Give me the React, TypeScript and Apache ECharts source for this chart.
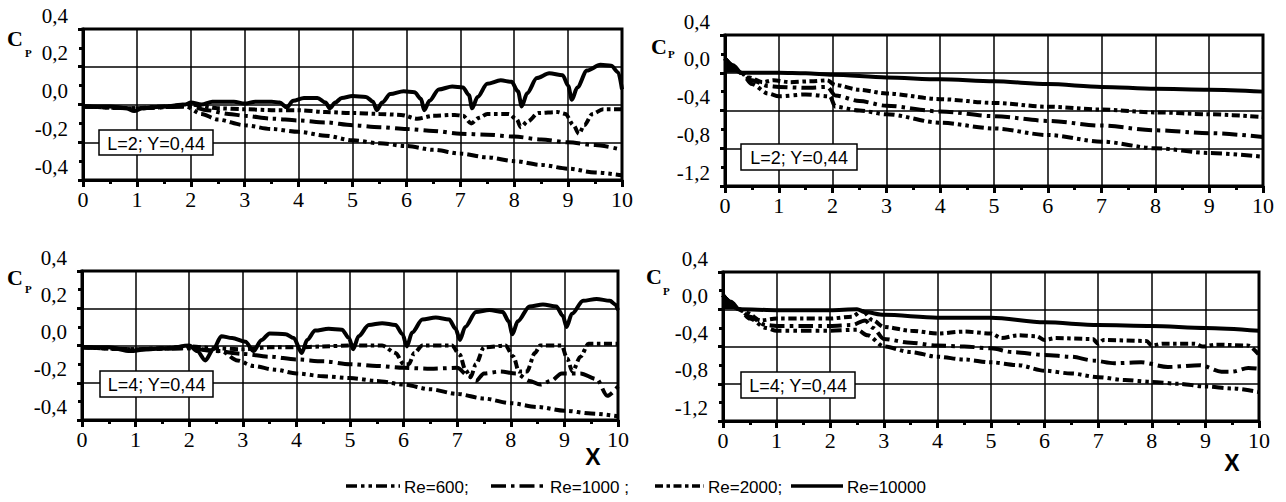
import React, { useEffect, useRef } from "react";
import * as echarts from "echarts";

// ---------- data ----------
const X_MIN = 0;
const X_MAX = 10;
const SERIES_NAMES = ["Re=600", "Re=1000", "Re=2000", "Re=10000"];
const LEGEND_TEXTS = ["Re=600;", "Re=1000 ;", "Re=2000;", "Re=10000"];
const PANEL_LABELS = ["L=2; Y=0,44", "L=2; Y=0,44", "L=4; Y=0,44", "L=4; Y=0,44"];
const Y_RANGES = [
  [-0.4, 0.4, 0.2],
  [-1.2, 0.4, 0.4],
  [-0.4, 0.4, 0.2],
  [-1.2, 0.4, 0.4],
];

// Panel 1: L=2, Y=0.44
const p1_600 = [[0,-0.01],[1,-0.02],[1.9,-0.01],[2.2,-0.05],[2.5,-0.08],[3,-0.11],[3.5,-0.13],[4,-0.145],[4.5,-0.165],[5,-0.19],[5.5,-0.205],[6,-0.22],[6.5,-0.24],[7,-0.26],[7.5,-0.28],[8,-0.3],[8.5,-0.32],[9,-0.34],[9.5,-0.36],[10,-0.375]];
const p1_1000 = [[0,-0.01],[1,-0.02],[2,-0.01],[2.3,-0.03],[2.7,-0.05],[3,-0.06],[3.5,-0.075],[4,-0.085],[4.5,-0.095],[5,-0.11],[5.5,-0.12],[6,-0.13],[6.5,-0.14],[7,-0.155],[7.5,-0.16],[8,-0.17],[8.5,-0.185],[9,-0.2],[9.5,-0.215],[10,-0.24]];
const p1_2000 = [[0,-0.01],[1,-0.02],[1.5,-0.01],[2,0.0],[2.5,-0.02],[3,-0.025],[3.5,-0.03],[4,-0.03],[4.5,-0.04],[5,-0.045],[5.5,-0.05],[5.9,-0.055],[6.2,-0.075],[6.5,-0.06],[6.9,-0.055],[7.05,-0.06],[7.2,-0.1],[7.35,-0.07],[7.5,-0.05],[7.9,-0.05],[8.05,-0.08],[8.12,-0.12],[8.25,-0.09],[8.45,-0.045],[8.8,-0.04],[8.95,-0.05],[9.1,-0.11],[9.2,-0.155],[9.3,-0.11],[9.45,-0.05],[9.65,-0.025],[10,-0.025]];
const p1_10000 = [[0,-0.01],[0.5,-0.01],[0.8,-0.02],[0.95,-0.035],[1.1,-0.02],[1.5,-0.01],[1.9,0.0],[2.0,0.01],[2.2,0.0],[2.4,0.015],[2.8,0.015],[3.0,0.005],[3.2,0.015],[3.5,0.015],[3.65,0.01],[3.78,-0.015],[3.9,0.02],[4.1,0.035],[4.35,0.035],[4.5,0.01],[4.58,-0.02],[4.68,0.01],[4.8,0.035],[5.0,0.045],[5.25,0.04],[5.38,0.015],[5.45,-0.03],[5.55,0.01],[5.7,0.055],[5.95,0.07],[6.15,0.065],[6.27,0.03],[6.33,-0.03],[6.43,0.02],[6.6,0.08],[6.85,0.095],[7.05,0.09],[7.16,0.05],[7.22,-0.02],[7.32,0.04],[7.5,0.11],[7.75,0.128],[7.95,0.12],[8.07,0.07],[8.14,-0.01],[8.24,0.06],[8.42,0.14],[8.65,0.165],[8.9,0.155],[9.0,0.1],[9.07,0.025],[9.17,0.09],[9.35,0.18],[9.6,0.21],[9.8,0.205],[9.93,0.17],[10,0.08]];

// Panel 2: L=2, Y=0.44
const p2_wedge = [[0,0.15],[0.3,0.0]];
const p2_600 = [[0,0.15],[0.3,0.0],[0.5,-0.12],[0.8,-0.22],[1.0,-0.25],[1.5,-0.23],[1.95,-0.25],[2.05,-0.36],[2.5,-0.4],[3,-0.44],[4,-0.53],[5,-0.59],[6,-0.66],[7,-0.73],[8,-0.8],[9,-0.85],[10,-0.89]];
const p2_1000 = [[0,0.15],[0.3,0.0],[0.5,-0.08],[0.8,-0.14],[1.0,-0.15],[1.5,-0.16],[1.9,-0.15],[2.05,-0.24],[2.5,-0.3],[3,-0.35],[4,-0.41],[5,-0.46],[6,-0.51],[7,-0.56],[8,-0.61],[9,-0.64],[10,-0.68]];
const p2_2000 = [[0,0.15],[0.3,0.0],[0.45,-0.05],[0.7,-0.1],[0.9,-0.08],[1.2,-0.1],[1.6,-0.09],[1.9,-0.08],[2.05,-0.13],[2.5,-0.18],[3,-0.22],[4,-0.28],[5,-0.32],[6,-0.36],[7,-0.39],[8,-0.42],[9,-0.44],[10,-0.47]];
const p2_10000 = [[0,0.15],[0.15,0.08],[0.3,0.0],[1,0.0],[1.5,-0.005],[2,-0.02],[3,-0.05],[4,-0.07],[5,-0.09],[6,-0.12],[7,-0.15],[8,-0.17],[9,-0.18],[10,-0.2]];

// Panel 3: L=4, Y=0.44
const p3_600 = [[0,-0.01],[1,-0.02],[2,-0.015],[2.6,-0.03],[2.9,-0.08],[3.2,-0.11],[3.6,-0.13],[4,-0.15],[4.5,-0.165],[5,-0.175],[5.5,-0.19],[6,-0.21],[6.5,-0.235],[7,-0.26],[7.5,-0.285],[8,-0.31],[8.5,-0.33],[9,-0.35],[9.5,-0.365],[10,-0.38]];
const p3_1000 = [[0,-0.01],[1,-0.02],[2,-0.015],[2.5,-0.03],[3,-0.045],[3.5,-0.06],[4,-0.075],[4.5,-0.085],[5,-0.1],[5.5,-0.11],[6,-0.12],[6.5,-0.125],[7,-0.12],[7.2,-0.16],[7.35,-0.19],[7.5,-0.15],[7.8,-0.14],[8.1,-0.15],[8.35,-0.19],[8.55,-0.21],[8.75,-0.19],[8.95,-0.15],[9.3,-0.15],[9.6,-0.18],[9.8,-0.27],[10,-0.22]];
const p3_2000 = [[0,-0.01],[1,-0.02],[1.5,-0.015],[2,-0.005],[2.5,-0.015],[3,-0.02],[3.5,-0.01],[4,-0.01],[4.5,-0.005],[5,0.0],[5.6,0.0],[5.85,-0.04],[6.0,-0.1],[6.1,-0.1],[6.2,-0.04],[6.35,0.0],[6.9,0.0],[7.05,-0.05],[7.15,-0.13],[7.25,-0.17],[7.35,-0.1],[7.5,-0.01],[7.9,0.0],[8.05,-0.06],[8.15,-0.14],[8.3,-0.14],[8.45,-0.04],[8.55,0.0],[8.95,0.0],[9.05,-0.07],[9.15,-0.14],[9.3,-0.06],[9.45,0.01],[10,0.01]];
const p3_10000 = [[0,-0.01],[0.5,-0.01],[0.9,-0.03],[1.2,-0.02],[1.6,-0.015],[2.0,0.0],[2.15,-0.03],[2.3,-0.08],[2.45,-0.02],[2.6,0.05],[2.8,0.04],[3.05,0.02],[3.2,-0.03],[3.35,0.03],[3.5,0.065],[3.8,0.06],[3.95,0.04],[4.1,-0.04],[4.2,0.03],[4.35,0.08],[4.6,0.09],[4.85,0.085],[4.98,0.04],[5.06,-0.02],[5.16,0.05],[5.35,0.11],[5.6,0.12],[5.85,0.11],[5.98,0.06],[6.06,-0.005],[6.16,0.07],[6.35,0.14],[6.6,0.15],[6.85,0.14],[6.97,0.09],[7.05,0.03],[7.15,0.1],[7.35,0.18],[7.6,0.19],[7.85,0.18],[7.96,0.13],[8.03,0.06],[8.13,0.13],[8.35,0.21],[8.6,0.22],[8.85,0.21],[8.97,0.16],[9.04,0.1],[9.14,0.17],[9.35,0.24],[9.6,0.25],[9.85,0.24],[9.95,0.22],[10,0.19]];

// Panel 4: L=4, Y=0.44
const p4_wedge = [[0,0.15],[0.3,0.0]];
const p4_600 = [[0,0.15],[0.3,0.0],[0.5,-0.1],[0.8,-0.2],[1.0,-0.23],[1.5,-0.23],[2,-0.23],[2.5,-0.22],[2.7,-0.28],[3,-0.4],[3.5,-0.46],[4,-0.51],[4.5,-0.54],[5,-0.57],[5.5,-0.6],[6,-0.66],[6.5,-0.69],[7,-0.73],[7.5,-0.76],[8,-0.78],[8.5,-0.8],[9,-0.83],[9.5,-0.85],[10,-0.89]];
const p4_1000 = [[0,0.15],[0.3,0.0],[0.5,-0.08],[0.8,-0.17],[1.0,-0.18],[1.5,-0.18],[2,-0.18],[2.4,-0.17],[2.65,-0.12],[2.8,-0.2],[3,-0.32],[3.5,-0.36],[4,-0.39],[4.5,-0.4],[5,-0.42],[5.4,-0.46],[6,-0.49],[6.5,-0.51],[6.9,-0.55],[7.3,-0.58],[7.8,-0.57],[8.3,-0.62],[8.9,-0.6],[9.3,-0.67],[9.5,-0.67],[9.8,-0.63],[10,-0.64]];
const p4_2000 = [[0,0.15],[0.3,0.0],[0.45,-0.04],[0.7,-0.12],[1.0,-0.1],[1.5,-0.1],[2,-0.1],[2.4,-0.08],[2.6,-0.02],[2.8,-0.12],[3,-0.19],[3.5,-0.23],[4,-0.26],[4.5,-0.24],[5.0,-0.26],[5.2,-0.31],[5.5,-0.28],[5.85,-0.29],[6.0,-0.33],[6.2,-0.31],[6.9,-0.32],[7.0,-0.37],[7.1,-0.33],[7.9,-0.34],[8.0,-0.39],[8.2,-0.37],[8.8,-0.37],[8.95,-0.4],[9.2,-0.38],[9.8,-0.39],[10,-0.49]];
const p4_10000 = [[0,0.15],[0.15,0.08],[0.3,0.0],[1,-0.01],[2,-0.01],[2.5,0.0],[2.65,-0.03],[3,-0.06],[4,-0.09],[5,-0.09],[6,-0.14],[7,-0.17],[8,-0.18],[9,-0.2],[10,-0.23]];

const PANELS = [
  [p1_600, p1_1000, p1_2000, p1_10000],
  [p2_600, p2_1000, p2_2000, p2_10000],
  [p3_600, p3_1000, p3_2000, p3_10000],
  [p4_600, p4_1000, p4_2000, p4_10000],
];
const WEDGES: [number, any[]][] = [
  [1, p2_wedge],
  [3, p4_wedge],
];

// ---------- styles ----------
const DASHES: any[] = [
  [11, 4, 3.5, 4, 3.5, 4],
  [15, 5, 3.5, 5],
  [8, 3.5, 3.5, 3.5],
  "solid",
];

const GRIDS = [
  { left: 83, top: 29, width: 539, height: 151 },
  { left: 725, top: 35, width: 538, height: 151 },
  { left: 82, top: 271, width: 536, height: 149 },
  { left: 723, top: 272, width: 536, height: 149 },
];

const SERIF = "Liberation Serif, Times New Roman, serif";
const SANS = "Liberation Sans Narrow, Liberation Sans, Arial, sans-serif";

function fmt(v: number) {
  if (Math.abs(v) < 1e-9) return "0,0";
  return v.toFixed(1).replace(".", ",");
}

export default function App() {
  const ref = useRef<HTMLDivElement>(null);
  useEffect(() => {
    if (!ref.current) return;
    const chart = echarts.init(ref.current, null, { renderer: "svg" });

    const grid = GRIDS.map((g) => ({
      ...g,
      show: true,
      borderColor: "#000",
      borderWidth: 3,
      backgroundColor: "transparent",
      containLabel: false,
    }));

    const xAxis = GRIDS.map((_, i) => ({
      type: "value",
      gridIndex: i,
      min: X_MIN,
      max: X_MAX,
      interval: 1,
      axisLine: { show: true, onZero: false, lineStyle: { color: "#000", width: 3 } },
      axisTick: { show: true, length: 7, lineStyle: { color: "#000", width: 3 } },
      minorTick: { show: true, splitNumber: 2, length: 4, lineStyle: { color: "#000", width: 3 } },
      splitLine: { show: true, lineStyle: { color: "#000", width: 1.5 } },
      axisLabel: { color: "#000", fontSize: 22, fontFamily: SERIF, margin: 8 },
    }));

    const yAxis = Y_RANGES.map(([mn, mx, iv], i) => ({
      type: "value",
      gridIndex: i,
      min: mn,
      max: mx,
      interval: iv,
      axisLine: { show: true, onZero: false, lineStyle: { color: "#000", width: 3 } },
      axisTick: { show: true, length: 5, lineStyle: { color: "#000", width: 3 } },
      minorTick: { show: true, splitNumber: 2, length: 4, lineStyle: { color: "#000", width: 3 } },
      splitLine: { show: true, lineStyle: { color: "#000", width: 1.5 } },
      axisLabel: {
        color: "#000",
        fontSize: 21,
        fontFamily: SERIF,
        margin: 15,
        verticalAlign: "bottom",
        lineHeight: 21,
        padding: [0, 0, 3, 0],
        formatter: (v: number) => fmt(v),
      },
    }));

    const series: any[] = [];
    PANELS.forEach((panel, pi) => {
      panel.forEach((data, si) => {
        series.push({
          type: "line",
          name: SERIES_NAMES[si],
          xAxisIndex: pi,
          yAxisIndex: pi,
          data,
          symbol: "none",
          smooth: 0.3,
          smoothMonotone: "x",
          silent: true,
          lineStyle: { color: "#000", width: 4, type: DASHES[si], cap: "butt" },
          z: 3,
        });
      });
    });
    WEDGES.forEach(([pi, data]) => {
      series.push({
        type: "line",
        xAxisIndex: pi,
        yAxisIndex: pi,
        data,
        symbol: "none",
        silent: true,
        lineStyle: { color: "#000", width: 2 },
        areaStyle: { color: "#000", opacity: 1, origin: 0 },
        z: 3,
      });
    });

    const graphic: any[] = [];
    // C_p labels
    const cPos = [
      [7, 27, 25, 47],
      [651, 35, 668, 48],
      [7, 266, 25, 283],
      [646, 265, 663, 285],
    ];
    cPos.forEach(([cx, cy, px, py]) => {
      graphic.push({
        type: "text", x: cx, y: cy, z: 50,
        style: { text: "C", font: `bold 22px ${SERIF}`, fill: "#000", align: "left", verticalAlign: "top" },
      });
      graphic.push({
        type: "text", x: px, y: py, z: 50,
        style: { text: "P", font: `bold 11px ${SERIF}`, fill: "#000", align: "left", verticalAlign: "top" },
      });
    });
    // panel label boxes
    const boxPos = [
      [99, 130, 114, 25],
      [741, 144, 116, 26],
      [100, 371, 113, 26],
      [741, 372, 114, 26],
    ];
    boxPos.forEach(([bx, by, bw, bh], i) => {
      graphic.push({
        type: "rect", z: 60,
        shape: { x: bx, y: by, width: bw, height: bh },
        style: { fill: "#fff", stroke: "#000", lineWidth: 1.5 },
      });
      graphic.push({
        type: "text", z: 61, x: bx + bw / 2, y: by + bh / 2 + 1,
        style: { text: PANEL_LABELS[i], font: `18px ${SANS}`, fill: "#000", align: "center", verticalAlign: "middle" },
      });
    });
    // X axis titles
    [[593, 457], [1232, 463]].forEach(([x, y]) => {
      graphic.push({
        type: "text", x, y, z: 50,
        style: { text: "X", font: `bold 23px ${SANS}`, fill: "#000", align: "center", verticalAlign: "middle" },
      });
    });
    // legend
    const legPos = [
      [346, 400, 404],
      [491, 545, 550],
      [655, 704, 708],
      [791, 843, 847],
    ];
    const legY = 486;
    legPos.forEach(([x1, x2, tx], i) => {
      const d = DASHES[i];
      graphic.push({
        type: "line", z: 50,
        shape: { x1, y1: legY, x2, y2: legY },
        style: { stroke: "#000", lineWidth: 3.5, lineDash: Array.isArray(d) ? d : null },
      });
      graphic.push({
        type: "text", x: tx, y: legY + 1, z: 50,
        style: { text: LEGEND_TEXTS[i], font: `17px ${SANS}`, fill: "#000", align: "left", verticalAlign: "middle" },
      });
    });

    chart.setOption({
      animation: false,
      backgroundColor: "#fff",
      grid,
      xAxis,
      yAxis,
      series,
      graphic,
    });
    return () => chart.dispose();
  }, []);

  return (
    <div
      ref={ref}
      style={{ position: "absolute", left: 0, top: 0, width: 1286, height: 502 }}
    />
  );
}
